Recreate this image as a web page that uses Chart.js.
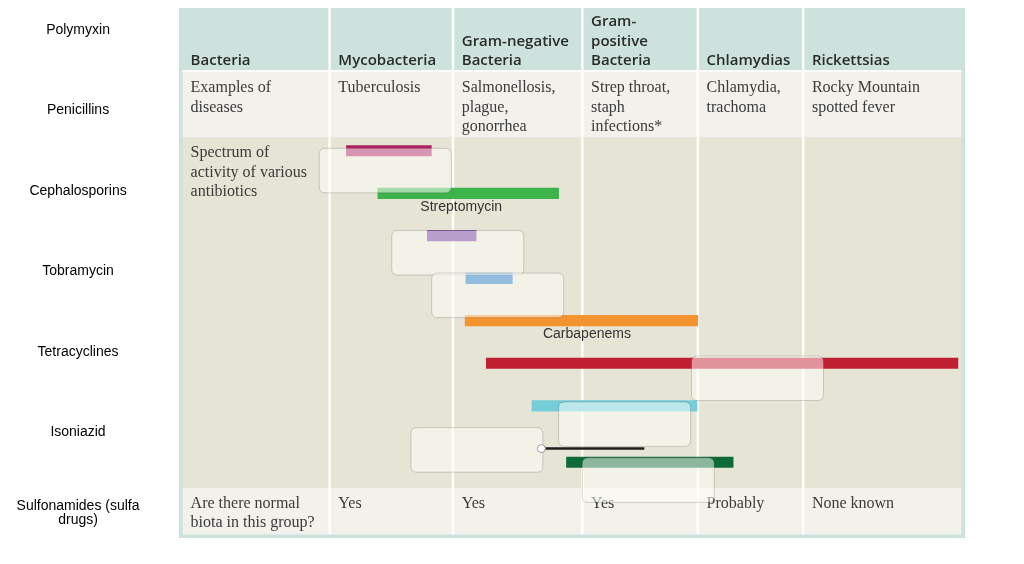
<!DOCTYPE html>
<html>
<head>
<meta charset="utf-8">
<script src="https://cdn.jsdelivr.net/npm/chart.js@4.4.1/dist/chart.umd.min.js"></script>
<style>
  html, body { margin: 0; padding: 0; background: #fff; }
  #wrap { width: 1024px; height: 564px; }
</style>
</head>
<body>
<div id="wrap"><canvas id="chart"></canvas></div>
<script>
// drug names shown down the left side
const drugs = ["Polymyxin", "Penicillins", "Cephalosporins", "Tobramycin",
  "Tetracyclines", "Isoniazid", ["Sulfonamides (sulfa", "drugs)"]];

// table columns and rows
const headers = [["Bacteria"], ["Mycobacteria"], ["Gram-negative", "Bacteria"],
  ["Gram-", "positive", "Bacteria"], ["Chlamydias"], ["Rickettsias"]];
const diseases = [["Examples of", "diseases"], ["Tuberculosis"],
  ["Salmonellosis,", "plague,", "gonorrhea"], ["Strep throat,", "staph", "infections*"],
  ["Chlamydia,", "trachoma"], ["Rocky Mountain", "spotted fever"]];
const spectrumText = ["Spectrum of", "activity of various", "antibiotics"];
const biota = [["Are there normal", "biota in this group?"], ["Yes"], ["Yes"], ["Yes"],
  ["Probably"], ["None known"]];
const colEdges = [19.0, 34.7, 51.15, 65.85, 79.25]; // column dividers, x units

// spectrum bars (x = 0..100 across the table)
const barStart = [21.3, 25.3, 31.6, 36.5, 36.4, 39.1, 44.9, 49.3];
const barEnd = [32.1, 48.3, 37.8, 42.4, 66.0, 99.1, 65.9, 70.5];
const barRow = [3.0, 4.06, 5.11, 6.17, 7.22, 8.28, 9.34, 10.74];
const barColors = ["#b0205f", "#3db34c", "#6a3696", "#1a78c0", "#f39431", "#c01f32", "#74cdd7", "#0f6a3a"];
const barNames = ["", "Streptomycin", "", "", "Carbapenems", "", "", ""];
const nameAt = [null, 35.9, null, null, 51.9, null, null, null];

// thin marker line
const markX = [46.1, 59.2];
const markY = [10.4, 10.4];

// leftover pale boxes over the plot
const boxLeft = [17.85, 27.07, 32.15, 65.2, 48.3, 29.5, 51.3];
const boxTop = [2.94, 4.98, 6.04, 8.1, 9.24, 9.88, 10.63];

const SANS = '"Liberation Sans", Arial, sans-serif';
const SERIF = '"Liberation Serif", "Times New Roman", serif';
const HEAD = '"Open Sans", sans-serif';

function roundRect(ctx, x, y, w, h, r) {
  ctx.beginPath();
  ctx.moveTo(x + r, y);
  ctx.lineTo(x + w - r, y);
  ctx.quadraticCurveTo(x + w, y, x + w, y + r);
  ctx.lineTo(x + w, y + h - r);
  ctx.quadraticCurveTo(x + w, y + h, x + w - r, y + h);
  ctx.lineTo(x + r, y + h);
  ctx.quadraticCurveTo(x, y + h, x, y + h - r);
  ctx.lineTo(x, y + r);
  ctx.quadraticCurveTo(x, y, x + r, y);
  ctx.closePath();
}

const tablePlugin = {
  id: "table",
  beforeDatasetsDraw(chart) {
    const { ctx } = chart;
    const x = chart.scales.x;
    const L = x.getPixelForValue(0), R = x.getPixelForValue(100);
    const top = 8, headEnd = 70, row2 = 72, row3 = 137.5, row4 = 488, innerBot = 534.5, bot = 538;
    const fw = 3.6;
    ctx.save();
    ctx.fillStyle = "#cde2dc";
    ctx.fillRect(L, top, R - L, bot - top);
    ctx.fillStyle = "#fdfdfb";
    ctx.fillRect(L + fw, headEnd, R - L - 2 * fw, row2 - headEnd);
    ctx.fillStyle = "#f3f1eb";
    ctx.fillRect(L + fw, row2, R - L - 2 * fw, row3 - row2);
    ctx.fillStyle = "#e6e4d5";
    ctx.fillRect(L + fw, row3, R - L - 2 * fw, row4 - row3);
    ctx.fillStyle = "#f3f1eb";
    ctx.fillRect(L + fw, row4, R - L - 2 * fw, innerBot - row4);
    ctx.fillStyle = "#fdfdfb";
    colEdges.forEach(v => {
      const px = x.getPixelForValue(v);
      ctx.fillRect(px, top, 2.5, innerBot - top);
    });
    const textX = [L + fw + 8].concat(colEdges.map(v => x.getPixelForValue(v) + 10));
    const step = 19.5;
    // header
    ctx.fillStyle = "#2b2b2b";
    ctx.font = "600 15px " + HEAD;
    ctx.textAlign = "left";
    ctx.textBaseline = "alphabetic";
    headers.forEach((lines, i) => {
      lines.forEach((t, j) => {
        ctx.fillText(t, textX[i], 65 - (lines.length - 1 - j) * step);
      });
    });
    ctx.fillStyle = "#3b3b3b";
    ctx.font = "16px " + SERIF;
    diseases.forEach((lines, i) => {
      lines.forEach((t, j) => ctx.fillText(t, textX[i], 92 + j * step));
    });
    spectrumText.forEach((t, j) => ctx.fillText(t, textX[0], 157 + j * step));
    biota.forEach((lines, i) => {
      lines.forEach((t, j) => ctx.fillText(t, textX[i], 507.5 + j * step));
    });
    ctx.restore();
  },
  // pale boxes go over the bars but under the marker line
  beforeDatasetDraw(chart, args) {
    if (args.index !== 1) return;
    const { ctx } = chart;
    const x = chart.scales.x, yb = chart.scales.yb;
    ctx.save();
    boxLeft.forEach((v, i) => {
      const px = x.getPixelForValue(v), py = yb.getPixelForValue(boxTop[i]);
      roundRect(ctx, px, py, 132, 44.5, 6);
      ctx.fillStyle = "rgba(255,255,252,0.52)";
      ctx.fill();
      ctx.strokeStyle = "rgba(0,0,0,0.16)";
      ctx.lineWidth = 1;
      ctx.stroke();
    });
    ctx.restore();
  },
  afterDatasetsDraw(chart) {
    const { ctx } = chart;
    const x = chart.scales.x;
    const meta = chart.getDatasetMeta(0);
    ctx.save();
    ctx.fillStyle = "#333";
    ctx.font = "14px " + SANS;
    ctx.textAlign = "center";
    ctx.textBaseline = "middle";
    meta.data.forEach((el, i) => {
      if (!barNames[i]) return;
      ctx.fillText(barNames[i], x.getPixelForValue(nameAt[i]), el.y + 13.5);
    });
    ctx.restore();
  }
};

const ctx = document.getElementById("chart").getContext("2d");
new Chart(ctx, {
  type: "bar",
  data: {
    labels: drugs,
    datasets: [
      {
        type: "bar",
        order: 2,
        xAxisID: "x",
        yAxisID: "yb",
        data: barStart.map((s, i) => ({ x: [s, barEnd[i]], y: barRow[i] })),
        backgroundColor: barColors,
        borderWidth: 0,
        borderSkipped: false,
        barThickness: 10.5
      },
      {
        type: "line",
        order: 1,
        xAxisID: "x",
        yAxisID: "yb",
        data: markX.map((v, i) => ({ x: v, y: markY[i] })),
        borderColor: "#1e1e1e",
        borderWidth: 2.5,
        pointRadius: [4, 0],
        pointBackgroundColor: "#fff",
        pointBorderColor: "#9a9a9a",
        pointBorderWidth: 1
      }
    ]
  },
  options: {
    indexAxis: "y",
    responsive: true,
    maintainAspectRatio: false,
    animation: false,
    layout: { padding: { left: 0, right: 59, top: 30, bottom: 51 } },
    plugins: {
      legend: { display: false },
      tooltip: { enabled: false }
    },
    scales: {
      x: { type: "linear", display: false, min: 0, max: 100, offset: false },
      yb: { type: "linear", axis: "y", position: "left", display: false, reverse: true, min: 0, max: 12, offset: false },
      y: {
        type: "category",
        position: "left",
        offset: false,
        min: 0,
        max: 6,
        grid: { display: false, drawTicks: false },
        border: { display: false },
        ticks: {
          autoSkip: false,
          color: "#000",
          crossAlign: "center",
          padding: 39.5,
          font: { family: SANS, size: 14, lineHeight: 1.0 }
        },
        afterFit(scale) {
          scale.width = 179;
          scale.paddingTop = 0;
          scale.paddingBottom = 0;
        }
      }
    }
  },
  plugins: [tablePlugin]
});
</script>
</body>
</html>
